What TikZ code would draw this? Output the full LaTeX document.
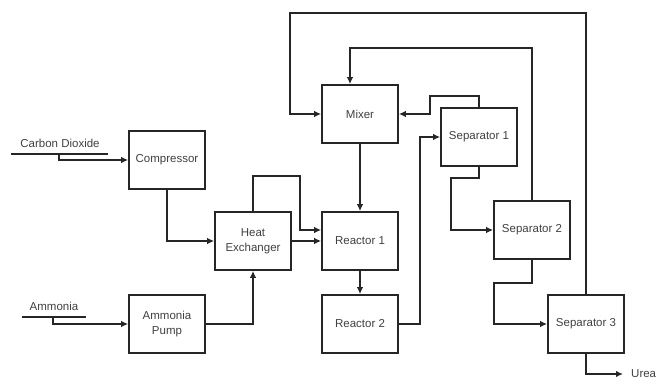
\documentclass[tikz,border=0pt]{standalone}
\usepackage{fontspec}
\setmainfont{Liberation Sans}
\usetikzlibrary{arrows.meta}
\begin{document}
\begin{tikzpicture}[x=1pt,y=-1pt,
  box/.style={draw=black!85, line width=1.6pt, minimum width=76pt, minimum height=58pt,
    inner sep=0pt, align=center, font=\fontsize{11.5}{14.5}\selectfont, text=black!75},
  flow/.style={draw=black!85, line width=1.6pt, -{Latex[length=7pt,width=6.5pt]}},
  pipe/.style={draw=black!85, line width=1.6pt},
  lbl/.style={font=\fontsize{11.5}{14.5}\selectfont, text=black!75, inner sep=0pt}]
\useasboundingbox (0,0) rectangle (662,385);

\node[box] (comp) at (167,160) {Compressor};
\node[box] (hx) at (253,241) {Heat\\Exchanger};
\node[box] (pump) at (167,324) {Ammonia\\Pump};
\node[box] (mix) at (360,114) {Mixer};
\node[box] (r1) at (360,241) {Reactor 1};
\node[box] (r2) at (360,324) {Reactor 2};
\node[box] (s1) at (479,137) {Separator 1};
\node[box] (s2) at (532,230) {Separator 2};
\node[box] (s3) at (586,324) {Separator 3};

% feeds
\node[lbl] (co2) at (60,143) {Carbon Dioxide};
\coordinate (co2a) at (11,154);
\coordinate (co2b) at (108,154);
\coordinate (co2s) at (59,154);
\draw[pipe] (co2a) -- (co2b);
\draw[flow] (co2s) |- (comp.west);

\node[lbl] (nh3) at (54,306) {Ammonia};
\coordinate (nh3a) at (22,317);
\coordinate (nh3b) at (86,317);
\coordinate (nh3s) at (53,317);
\draw[pipe] (nh3a) -- (nh3b);
\draw[flow] (nh3s) |- (pump.west);

% main flow
\draw[flow] (comp.south) |- (hx.west);
\draw[flow] (pump.east) -| (hx.south);
\draw[flow] (hx.north) -- ++(0,-35) -- ++(47,0) |- ([yshift=11pt]r1.west);
\draw[flow] (hx.east) -- (r1.west);
\draw[flow] (mix.south) -- (r1.north);
\draw[flow] (r1.south) -- (r2.north);
\draw[flow] (r2.east) -- ++(21,0) |- (s1.west);
\draw[flow] (s1.north) -- ++(0,-11) -- ++(-49,0) |- (mix.east);
\draw[flow] (s1.south) -- ++(0,11) -- ++(-28,0) |- (s2.west);
\draw[flow] (s2.north) -- ++(0,-152) -| ([xshift=-10pt]mix.north);
\draw[flow] (s2.south) -- ++(0,23) -- ++(-38,0) |- (s3.west);
\draw[flow] (s3.north) -- ++(0,-281) -- ++(-296,0) |- (mix.west);

\node[lbl, anchor=west, inner xsep=8pt] (urea) at (623,374) {Urea};
\draw[flow] (s3.south) |- (urea.west);
\end{tikzpicture}
\end{document}
